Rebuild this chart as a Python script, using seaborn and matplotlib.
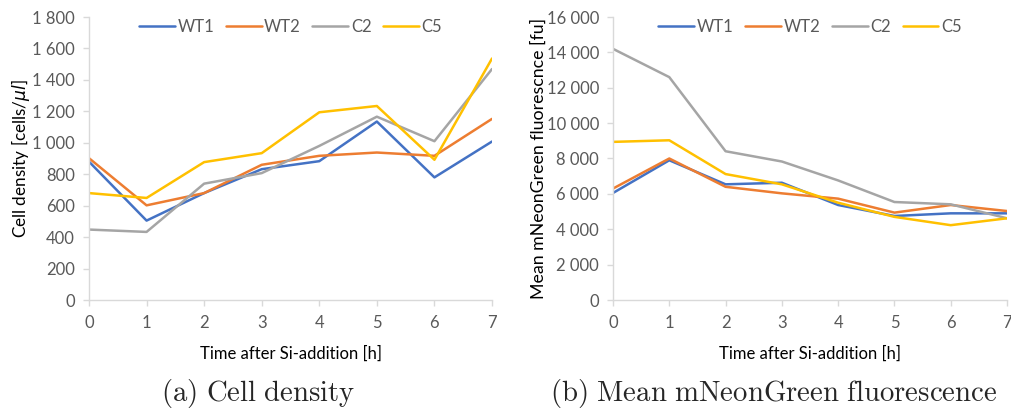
import numpy as np
import pandas as pd
import matplotlib
matplotlib.use("Agg")
import matplotlib.pyplot as plt
from matplotlib.ticker import FuncFormatter, MultipleLocator
import seaborn as sns

hours = [0, 1, 2, 3, 4, 5, 6, 7]
series_names = ["WT1", "WT2", "C2", "C5"]

density_wt1 = [880, 505, 680, 832, 883, 1135, 780, 1008]
density_wt2 = [902, 602, 680, 860, 917, 938, 917, 1152]
density_c2 = [448, 433, 740, 807, 980, 1166, 1010, 1469]
density_c5 = [680, 649, 877, 934, 1194, 1234, 892, 1536]

fluor_wt1 = [6050, 7900, 6540, 6630, 5370, 4750, 4900, 4900]
fluor_wt2 = [6300, 8000, 6400, 6030, 5730, 4940, 5370, 5030]
fluor_c2 = [14200, 12600, 8410, 7830, 6760, 5540, 5410, 4620]
fluor_c5 = [8940, 9030, 7120, 6540, 5500, 4700, 4230, 4620]

colors = ["#4472C4", "#ED7D31", "#A5A5A5", "#FFC000"]

def long_df(vals):
    rows = []
    for name, v in zip(series_names, vals):
        for h, y in zip(hours, v):
            rows.append({"hour": h, "value": y, "series": name})
    return pd.DataFrame(rows)

df_a = long_df([density_wt1, density_wt2, density_c2, density_c5])
df_b = long_df([fluor_wt1, fluor_wt2, fluor_c2, fluor_c5])

sns.set_theme(style="white")
plt.rcParams["font.family"] = ["Lato", "DejaVu Sans"]
plt.rcParams["mathtext.fontset"] = "dejavusans"

fig = plt.figure(figsize=(10.11, 4.15), dpi=100)
ax1 = fig.add_axes([89/1011, 115/415, 403/1011, 283/415])
ax2 = fig.add_axes([613/1011, 115/415, 394/1011, 283/415])

tick_col = "#595959"
spine_col = "#D9D9D9"
fmt = FuncFormatter(lambda v, p: f"{int(round(v)):,}".replace(",", " "))

for ax, df, ymax, step, ylabel, ylsize in [
    (ax1, df_a, 1800, 200, r"Cell density [cells/$\mu l$]", 12.3),
    (ax2, df_b, 16000, 2000, "Mean mNeonGreen fluorescnce [fu]", 12.8),
]:
    sns.lineplot(data=df, x="hour", y="value", hue="series", hue_order=series_names,
                 palette=colors, linewidth=1.8, ax=ax)
    ax.set_xlim(0, 7)
    ax.set_ylim(0, ymax)
    ax.yaxis.set_major_locator(MultipleLocator(step))
    ax.yaxis.set_major_formatter(fmt)
    ax.set_xticks(hours)
    for s in ["top", "right"]:
        ax.spines[s].set_visible(False)
    for s in ["left", "bottom"]:
        ax.spines[s].set_color(spine_col)
        ax.spines[s].set_linewidth(1.0)
    ax.tick_params(axis="both", colors=spine_col, labelcolor=tick_col, labelsize=12,
                   length=4, width=1.0, direction="out", left=True, bottom=True)
    ax.tick_params(axis="x", pad=7)
    ax.tick_params(axis="y", pad=6)
    ax.set_xlabel("Time after Si-addition [h]", fontsize=12, color="black", labelpad=10.5)
    ax.set_ylabel(ylabel, fontsize=ylsize, color="black", labelpad=0.3)
    sns.move_legend(ax, "upper center", bbox_to_anchor=(0.5, 1.045), ncol=4, frameon=False,
                    title=None, fontsize=12, handlelength=2.15, handletextpad=0.15,
                    columnspacing=0.7, labelcolor=tick_col)

plt.rcParams["mathtext.fontset"] = "cm"
fig.text(258/1011, 1 - 393/415, r"$\mathrm{(a)\ Cell\ density}$", ha="center", va="center",
         fontsize=20.7)
fig.text(774/1011, 1 - 393/415, r"$\mathrm{(b)\ Mean\ mNeonGreen\ fluorescence}$",
         ha="center", va="center", fontsize=20.7)

fig.savefig("out.png", dpi=100)
